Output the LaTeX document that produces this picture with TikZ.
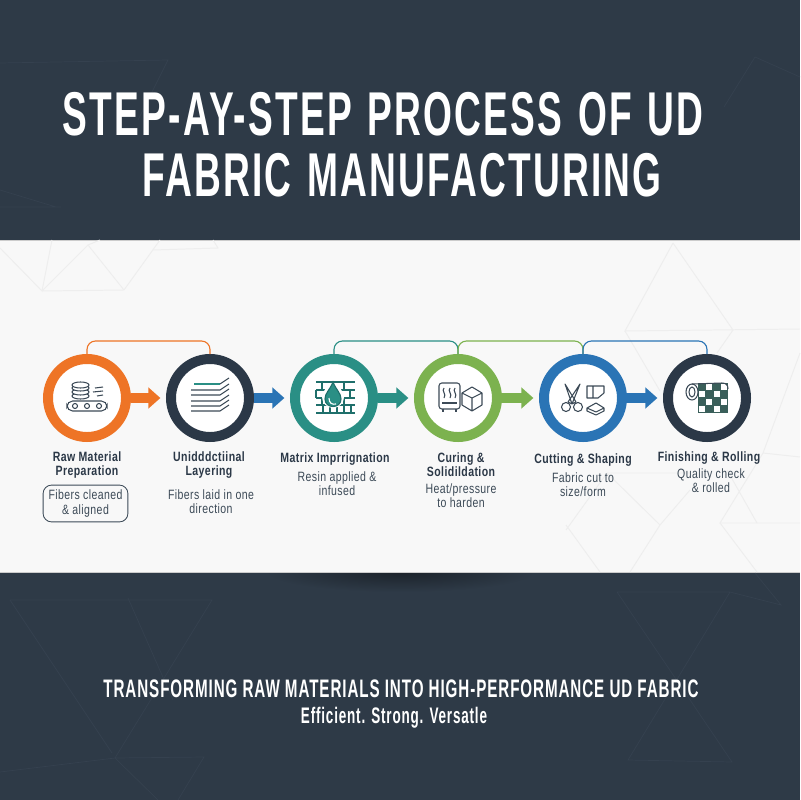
\documentclass[tikz,border=0pt]{standalone}
\usepackage{fontspec}
\usetikzlibrary{arrows.meta}
\newfontfamily\headfont[FakeStretch=0.6,LetterSpace=3.6]{Liberation Sans}
\newfontfamily\labelfont[FakeStretch=0.78,LetterSpace=3]{Liberation Sans}
\definecolor{navyband}{HTML}{2E3A47}
\definecolor{navyline}{HTML}{35414F}
\definecolor{paper}{HTML}{F8F8F8}
\definecolor{paperline}{HTML}{EEEEEE}
\definecolor{orangeA}{HTML}{EE7426}
\definecolor{navyA}{HTML}{2B3847}
\definecolor{tealA}{HTML}{2A8F85}
\definecolor{greenA}{HTML}{7CB24F}
\definecolor{blueA}{HTML}{2A74B5}
\definecolor{iconA}{HTML}{3C4A57}
\definecolor{iconB}{HTML}{1F6F6B}
\definecolor{iconC}{HTML}{3A5F5A}
\tikzset{
  stepring/.style = {circle, draw=#1, fill=white, line width=7.1pt, minimum size=1.95cm, inner sep=0pt},
  flowarrow/.style = {draw=#1, line width=7.8pt, shorten >=4pt, -{Triangle[length=8.5pt,width=14.5pt,fill=#1]}},
  railline/.style = {draw=#1, line width=0.8pt, rounded corners=6pt},
  titletext/.style = {text=white, font=\headfont\bfseries\fontsize{44}{44}\selectfont\spaceskip 11pt\relax},
  closetext/.style = {text=white, font=\headfont\bfseries\fontsize{#1}{#1}\selectfont},
  steptext/.style = {text=navyA, align=center, font=\labelfont\bfseries\fontsize{9.6}{10}\selectfont},
  desctext/.style = {text=iconA, align=center, font=\labelfont\fontsize{9.6}{10}\selectfont},
  descbox/.style = {desctext, draw=iconA, line width=0.6pt, rounded corners=6pt, minimum width=2.12cm, minimum height=0.92cm, inner sep=0pt},
  icon/.style = {draw=iconA, line width=0.75pt},
  faint/.style = {draw=paperline, line width=0.7pt},
  faintdark/.style = {draw=navyline, line width=0.5pt}
}

\begin{document}
\begin{tikzpicture}[x=0.025cm,y=-0.025cm]
  \useasboundingbox (0,0) rectangle (800,800);
  % bands
  \fill[navyband] (0,0) rectangle (800,800);
  \begin{scope}
    \clip (0,572) rectangle (800,800);
    \shade[inner color=black!40!navyband, outer color=navyband] (400,572) ellipse (135 and 20);
  \end{scope}
  \fill[paper] (0,240) rectangle (800,572);
  \draw[black!20,line width=0.6pt] (0,240) -- (800,240);
  \draw[black!20,line width=0.6pt] (0,572) -- (800,572);

  % faint triangles
  \draw[faint] (0,248) -- (42,291) -- (52,240) (42,291) -- (124,290) -- (160,240) (42,291) -- (88,245) -- (124,290);
  \draw[faint] (88,245) -- (100,240) (153,250) -- (218,248) -- (213,240);
  \draw[faint] (673,243) -- (625,331) -- (800,329) (673,243) -- (733,330) -- (717,353);
  \draw[faint] (625,331) -- (660,391) (800,353) -- (763,453) -- (800,457) (763,453) -- (720,523) -- (800,523);
  \draw[faint] (720,523) -- (757,572) (757,523) -- (727,470) (566,530) -- (607,473) -- (690,473);
  \draw[faint] (607,473) -- (660,525) -- (630,572) (660,525) -- (690,490) (566,525) -- (600,572);
  \draw[faintdark] (0,63) -- (168,60) -- (138,120) (0,207) -- (61,207) (0,190) -- (56,207);
  \draw[faintdark] (800,77) -- (755,57) -- (724,107);
  \draw[faintdark] (10,600) -- (212,600) -- (115,758) -- (0,772) (115,758) -- (204,757) -- (178,800);
  \draw[faintdark] (128,598) -- (173,700) (10,600) -- (112,753) (115,758) -- (158,800);
  \draw[faintdark] (617,592) -- (730,592) -- (781,605) -- (755,573) (730,592) -- (628,760) -- (732,762) -- (617,592);

  % headings
  \node[titletext] (titleA) at (383,114) {STEP-AY-STEP PROCESS OF UD};
  \node[titletext] (titleB) at (402,175) {FABRIC MANUFACTURING};
  \node[closetext=18] (closeA) at (401,689) {TRANSFORMING RAW MATERIALS INTO HIGH-PERFORMANCE UD FABRIC};
  \node[closetext=16] (closeB) at (394,718) {Efficient. Strong. Versatle};

  % rings
  \foreach \N/\X/\C in {1/87/orangeA,2/210/navyA,3/334/tealA,4/458/greenA,5/583/blueA,6/707/navyA} {
    \node[stepring=\C] (step\N) at (\X,398) {};
  }

  % arrows and rails
  \draw[flowarrow=orangeA] (step1) -- (step2);
  \draw[flowarrow=blueA] (step2) -- (step3);
  \draw[flowarrow=tealA] (step3) -- (step4);
  \draw[flowarrow=greenA] (step4) -- (step5);
  \draw[flowarrow=blueA] (step5) -- (step6);
  \coordinate (rail) at (0,341);
  \foreach \A/\B/\C in {1/2/orangeA,3/4/tealA,4/5/greenA,5/6/blueA} {
    \draw[railline=\C] (step\A.north) -- (step\A.north |- rail) -- (step\B.north |- rail) -- (step\B.north);
  }

  % step names
  \foreach \N/\X/\Y/\T in {1/87/465/{Raw Material\\Preparation},2/209/465/{Unidddctiinal\\Layering},
    3/335/459/{Matrix Imprrignation},4/461/465/{Curing \&\\Solidildation},
    5/583/460/{Cutting \& Shaping},6/709/458/{Finishing \& Rolling}} {
    \node[steptext] (name\N) at (\X,\Y) {\T};
  }

  % descriptions
  \node[descbox] (desc1) at (85.5,503.5) {Fibers cleaned\\\& aligned};
  \foreach \N/\X/\Y/\T in {2/211/502/{Fibers laid in one\\direction},3/337/484/{Resin applied \&\\infused},
    4/461/496/{Heat/pressure\\to harden},5/583/485/{Fabric cut to\\size/form},6/711/481/{Quality check\\\& rolled}} {
    \node[desctext] (desc\N) at (\X,\Y) {\T};
  }

  % icon 1
  \foreach \Y in {396,392,388} { \draw[icon,fill=white] (80.5,\Y) ellipse (8.5 and 3); }
  \draw[icon,fill=white] (80.5,385) ellipse (8.5 and 3);
  \draw[icon,rounded corners=4pt] (67,401) rectangle (107,411);
  \foreach \X in {75,87,99} { \draw[icon] (\X,406) circle (2.5); }
  \foreach \Y/\X in {388/95,392/93,396/97} { \draw[icon] (\X,\Y) -- (103,\Y-1); }

  % icon 2
  \draw[tealA,line width=0.9pt] (194,384) -- (220,384);
  \draw[icon] (220,384) -- (229,378);
  \foreach \Y in {390,395,401,406,411} { \draw[icon] (191,\Y) -- (220,\Y) -- (229,\Y-6); }

  % icon 3
  \begin{scope}[iconB,line width=0.8pt]
    \draw (316,382) -- (355,382) (316,390) -- (355,390) (316,398) -- (355,398) (316,405) -- (355,405) (316,413) -- (355,413);
    \foreach \X in {322,344} { \draw (\X,382) -- (\X,390) (\X,398) -- (\X,405); }
    \foreach \X in {316,333,350} { \draw (\X,390) -- (\X,398); }
    \foreach \X in {323,330,337,344,351} { \draw (\X,405) -- (\X,413); }
    \fill[white] (333,397) circle (11);
    \draw[fill=tealA] (333,382) .. controls (330,390) and (325,393) .. (325,399) .. controls (325,409) and (341,409) .. (341,399) .. controls (341,393) and (336,390) .. (333,382) -- cycle;
    \draw[white,line width=0.8pt] (329,398) .. controls (329,403) and (332,405) .. (336,404);
  \end{scope}

  % icon 4
  \draw[icon,rounded corners=2pt] (439,383) rectangle (460,409);
  \draw[icon] (443,409) -- (443,412) (456,409) -- (456,412) (442,403) -- (457,403);
  \foreach \X in {444,450,455} { \draw[icon] (\X,388) .. controls (\X-3,391) and (\X+3,394) .. (\X,398); }
  \draw[icon,line join=round] (472,387) -- (482,393) -- (482,405) -- (472,411) -- (462,405) -- (462,393) -- cycle (462,393) -- (472,398) -- (482,393) (472,398) -- (472,411);

  % icon 5
  \draw[icon,line join=round] (565,384) -- (576,402) -- (572,404) -- cycle (580,384) -- (572,404) -- (568,402) -- cycle;
  \draw[icon] (566,407) circle (4.5) (578,407) circle (4.5);
  \draw[icon,line join=round] (587,386) -- (604,386) -- (604,393) -- (598,398) -- (587,398) -- cycle (593,386) -- (593,398);
  \draw[icon,line join=round] (587,408) -- (596,403) -- (604,408) -- (604,411) -- (596,415) -- (587,411) -- cycle (587,408) -- (596,412) -- (604,408);

  % icon 6
  \fill[iconC] (698,383) rectangle (728,413);
  \foreach \X/\Y in {1/0,3/0,0/1,2/1,1/2,3/2,0/3,2/3} {
    \fill[white] (699+\X*7.4,384+\Y*7.4) rectangle +(6,6);
  }
  \draw[icon] (692,392) ellipse (6 and 8) (692,392) ellipse (3 and 5);
  \draw[icon] (692,384) -- (722,383) .. controls (726,383) and (728,385) .. (728,389);
\end{tikzpicture}
\end{document}
